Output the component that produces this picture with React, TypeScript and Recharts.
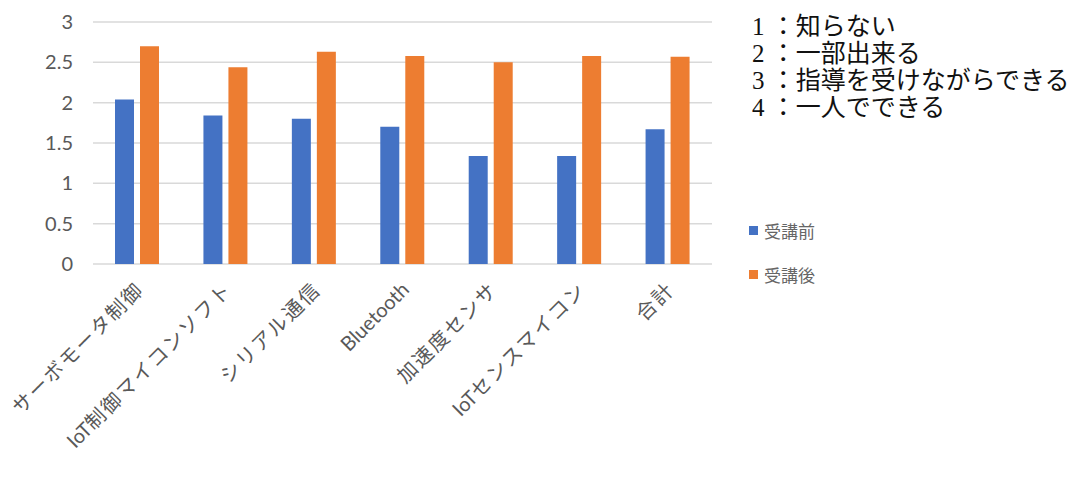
import { Bar, BarChart, CartesianGrid, Legend, XAxis, YAxis } from 'recharts';

const categories = [
  'サーボモータ制御',
  'IoT制御マイコンソフト',
  'シリアル通信',
  'Bluetooth',
  '加速度センサ',
  'IoTセンスマイコン',
  '合計'
];
const beforeValues = [2.04, 1.84, 1.8, 1.7, 1.34, 1.34, 1.67];
const afterValues = [2.7, 2.44, 2.63, 2.58, 2.5, 2.58, 2.57];
const yTicks = [0, 0.5, 1, 1.5, 2, 2.5, 3];
const scaleNotes = ['1 ：知らない', '2 ：一部出来る', '3 ：指導を受けながらできる', '4 ：一人でできる'];

const data = categories.map((name, i) => ({
  name,
  before: beforeValues[i],
  after: afterValues[i]
}));

const labelColor = '#595959';
const labelFont = "Lato, 'Noto Sans CJK JP', sans-serif";

// Excel spreads the CJK glyphs out a little in rotated labels, latin runs stay tight
function CategoryTick({ x, y, payload }: any) {
  const parts = String(payload.value).split(/([A-Za-z0-9]+)/).filter(Boolean);
  return (
    <g transform={`translate(${x + 3},${y + 14}) rotate(-45)`}>
      <text x={0} y={0} dy="0.35em" textAnchor="end" fill={labelColor} fontSize={20} fontFamily={labelFont}>
        {parts.map((part, i) => (
          <tspan key={i} letterSpacing={/^[A-Za-z0-9]+$/.test(part) ? 0 : 2}>
            {part}
          </tspan>
        ))}
      </text>
    </g>
  );
}

function renderLegend(props: any) {
  const items = props.payload ?? [];
  return (
    <ul style={{ listStyle: 'none', margin: 0, padding: 0 }}>
      {items.map((entry: any) => (
        <li
          key={entry.value}
          style={{ display: 'flex', alignItems: 'center', height: 44, fontFamily: labelFont, fontSize: 17, color: '#666' }}
        >
          <span style={{ display: 'inline-block', width: 9, height: 9, background: entry.color, marginRight: 6 }} />
          <span>{entry.value}</span>
        </li>
      ))}
    </ul>
  );
}

export default function App() {
  return (
    <div style={{ position: 'relative', width: 1080, height: 490, background: '#fff' }}>
      <style>{'body{margin:0}'}</style>
      <BarChart
        width={1080}
        height={490}
        data={data}
        margin={{ top: 22, right: 368, bottom: 0, left: 0 }}
        barSize={19}
        barGap={6}
      >
        <CartesianGrid stroke="#d9d9d9" strokeWidth={1.5} vertical={false} />
        <XAxis
          dataKey="name"
          height={226}
          interval={0}
          tickLine={false}
          axisLine={false}
          tick={<CategoryTick />}
        />
        <YAxis
          width={93}
          domain={[0, 3]}
          ticks={yTicks}
          tickLine={false}
          axisLine={false}
          tickMargin={14}
          tick={{ fill: labelColor, fontSize: 20, fontFamily: labelFont }}
        />
        <Legend
          layout="vertical"
          align="center"
          verticalAlign="middle"
          wrapperStyle={{ left: 749, top: 208, width: 120 }}
          content={renderLegend}
        />
        <Bar dataKey="before" name="受講前" fill="#4472c4" isAnimationActive={false} />
        <Bar dataKey="after" name="受講後" fill="#ed7d31" isAnimationActive={false} />
      </BarChart>
      <div
        style={{
          position: 'absolute',
          left: 752,
          top: 13,
          fontFamily: "'Liberation Serif', 'Noto Sans CJK JP', serif",
          fontSize: 25,
          lineHeight: '27px',
          color: '#111',
          whiteSpace: 'pre'
        }}
      >
        {scaleNotes.map((line) => (
          <div key={line}>{line}</div>
        ))}
      </div>
    </div>
  );
}
